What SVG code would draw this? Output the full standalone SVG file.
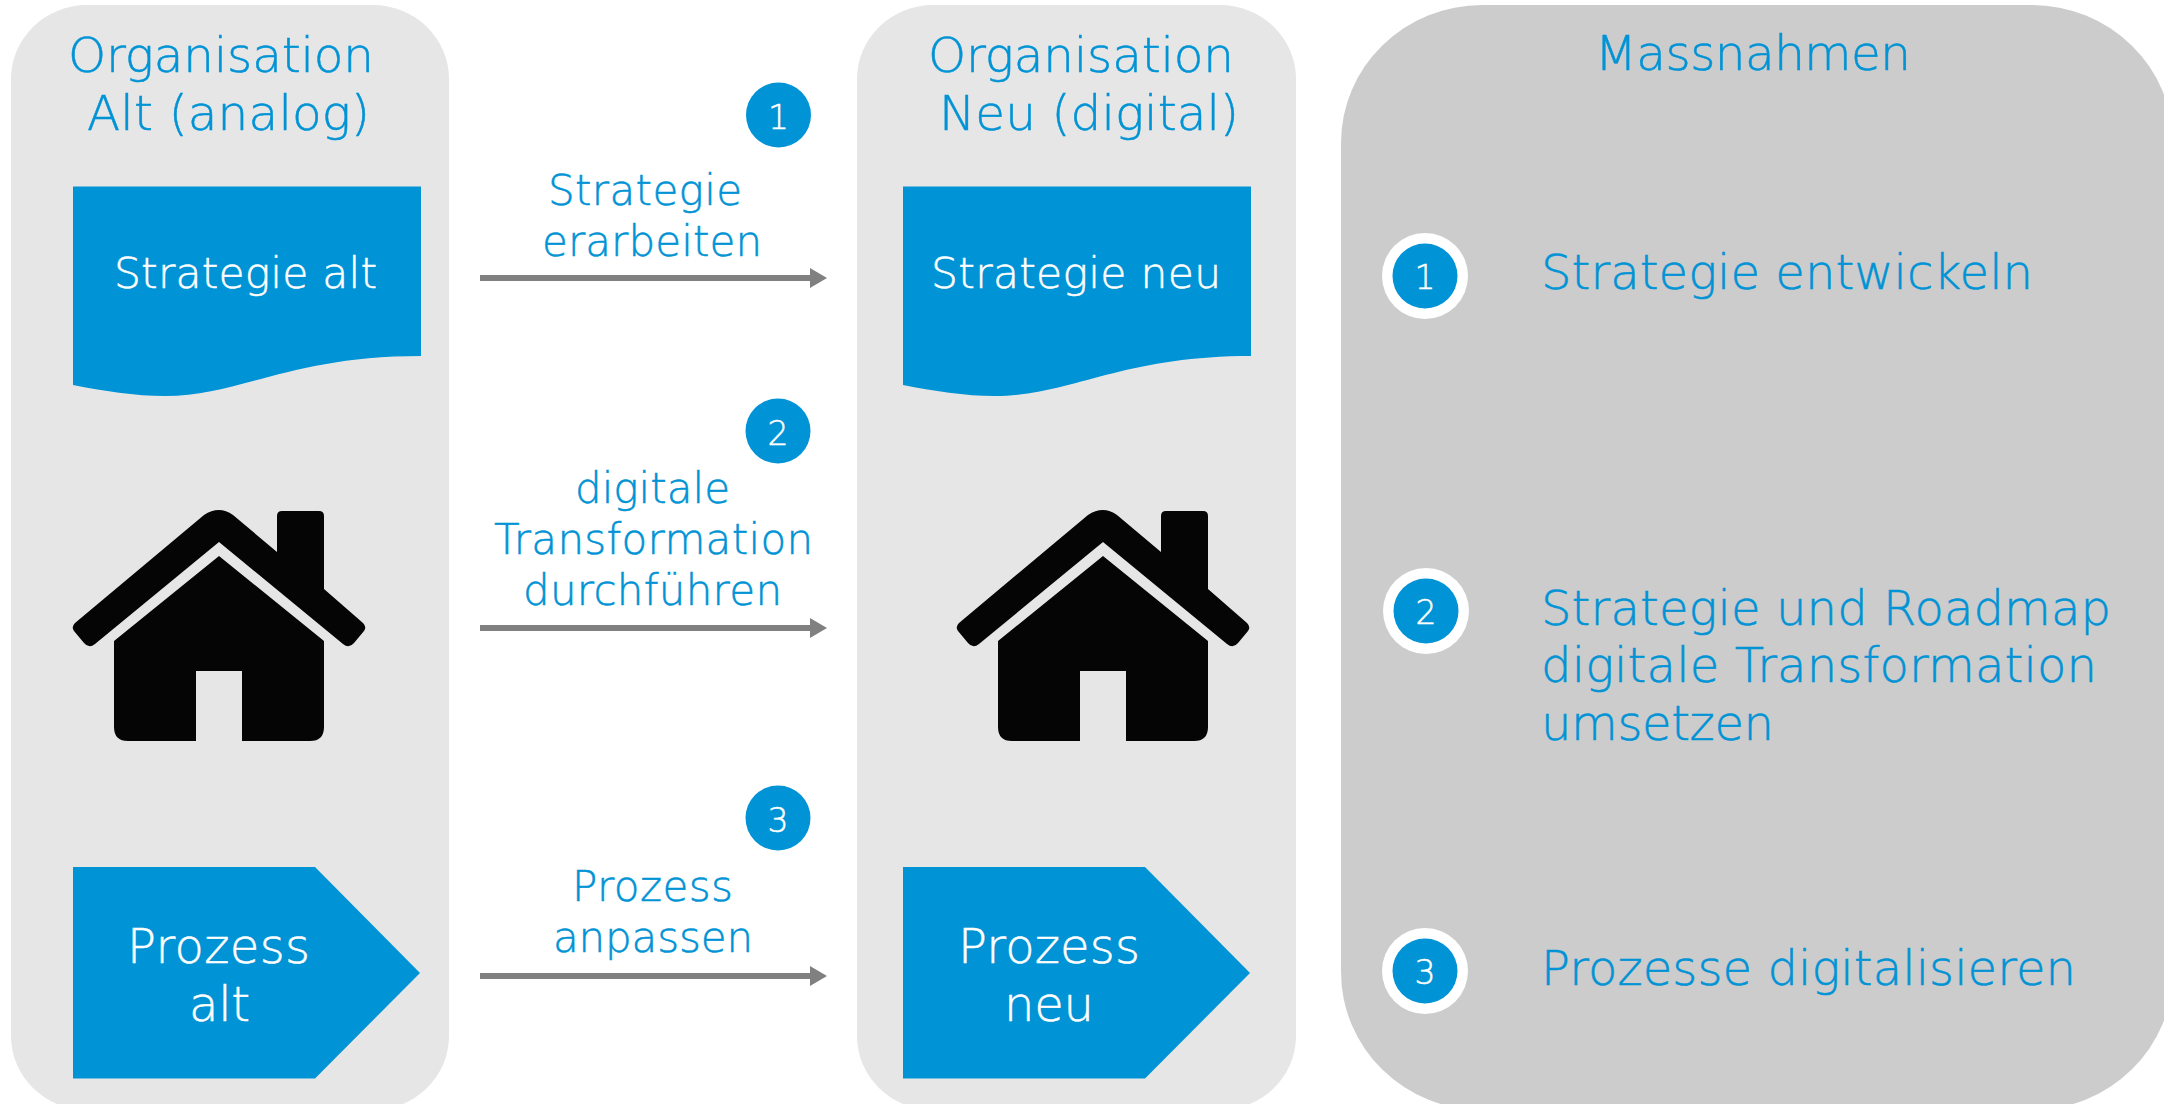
<svg xmlns="http://www.w3.org/2000/svg" width="2164" height="1104" viewBox="0 0 2164 1104">
<style>
text{font-family:"DejaVu Sans","Open Sans",sans-serif;font-weight:200;stroke-width:.5px}
.h{font-size:48.500px;fill:#0093d5;stroke:#0093d5}
.l{font-size:42px;fill:#0093d5;stroke:#0093d5}
.m{font-size:48px;fill:#0093d5;stroke:#0093d5}
.w{font-size:42.400px;fill:#fff;stroke:#fff}
.p{font-size:48px;fill:#fff;stroke:#fff}
.n{font-size:33px;fill:#fff;stroke:#fff;text-anchor:middle}
.blue{fill:#0093d5}
.conn{stroke:#808080;stroke-width:6;fill:none;marker-end:url(#ah)}
</style>
<defs>
<marker id="ah" markerUnits="userSpaceOnUse" markerWidth="18" markerHeight="20" refX="0" refY="10" orient="auto"><path d="M0 0L17 10L0 20Z" fill="#808080"/></marker>
<path id="house" fill="#050505" d="M204 515Q219 505 233 515L277 552V516Q277 511 282 511H319Q324 511 324 516V589L363 623Q367 627 364 631L354 643Q349 649 343 644L219 542L95 644Q89 649 84 643L74 631Q71 627 75 623ZM114 641L219 556L324 641V727Q324 741 310 741H242V671H196V741H128Q114 741 114 727Z"/>
<path id="doc" class="blue" d="M73 186.500H421V356C290 356 240 396 165 396C135 396 103 391 73 385Z"/>
<path id="pent" class="blue" d="M73 867H315L420 973L315 1078.500H73Z"/>
</defs>
<g id="panel-alt"><rect x="11" y="5" width="438" height="1105" rx="76" ry="74" fill="#e6e6e6"/>
<text class="h" x="68" y="72" textLength="306">Organisation</text>
<text class="h" x="87" y="130" textLength="283">Alt (analog)</text></g>
<g id="panel-neu"><rect x="857" y="5" width="439" height="1105" rx="76" ry="74" fill="#e6e6e6"/>
<text class="h" x="928" y="72" textLength="306">Organisation</text>
<text class="h" x="939" y="130" textLength="300">Neu (digital)</text></g>
<g id="panel-massnahmen"><rect x="1341" y="5" width="832" height="1105" rx="141" ry="138" fill="#ccc"/>
<text class="h" x="1595" y="70" textLength="316">Massnahmen</text></g>
<g id="strategie-alt"><use href="#doc"/><text class="w" x="114" y="288" textLength="263">Strategie alt</text></g>
<g id="strategie-neu"><use href="#doc" x="830"/><text class="w" x="931" y="288" textLength="290">Strategie neu</text></g>
<g id="haus-alt"><use href="#house"/></g>
<g id="haus-neu"><use href="#house" x="884"/></g>
<g id="prozess-alt"><use href="#pent"/><text class="p" x="127" y="963" textLength="183">Prozess</text><text class="p" x="189" y="1021" textLength="61">alt</text></g>
<g id="prozess-neu"><use href="#pent" x="830"/><text class="p" x="958" y="963" textLength="182">Prozess</text><text class="p" x="1004" y="1021" textLength="90">neu</text></g>
<g id="connectors">
<path class="conn" d="M480 278H810"/><path class="conn" d="M480 628H810"/><path class="conn" d="M480 976H810"/>
</g>
<g id="label-1"><circle class="blue" cx="778.500" cy="115" r="32.500"/><text class="n" x="778.500" y="129">1</text>
<text class="l" x="548" y="205" textLength="194">Strategie</text><text class="l" x="542" y="256" textLength="220">erarbeiten</text></g>
<g id="label-2"><circle class="blue" cx="778" cy="431" r="32.500"/><text class="n" x="778" y="445">2</text>
<text class="l" x="575" y="503" textLength="155">digitale</text><text class="l" x="494" y="554" textLength="319">Transformation</text><text class="l" x="523" y="605" textLength="259">durchführen</text></g>
<g id="label-3"><circle class="blue" cx="778" cy="818" r="32.500"/><text class="n" x="778" y="832">3</text>
<text class="l" x="572" y="901" textLength="161">Prozess</text><text class="l" x="553" y="952" textLength="200">anpassen</text></g>
<g id="massnahme-1"><circle cx="1425" cy="276" r="43" fill="#fff"/><circle class="blue" cx="1425" cy="276" r="32.500"/><text class="n" x="1425" y="289">1</text>
<text class="m" x="1541" y="289" textLength="492">Strategie entwickeln</text></g>
<g id="massnahme-2"><circle cx="1426" cy="611" r="43" fill="#fff"/><circle class="blue" cx="1426" cy="611" r="32.500"/><text class="n" x="1426" y="624">2</text>
<text class="m" x="1541" y="625" textLength="570">Strategie und Roadmap</text><text class="m" x="1541" y="682" textLength="556">digitale Transformation</text><text class="m" x="1541" y="740" textLength="233">umsetzen</text></g>
<g id="massnahme-3"><circle cx="1425" cy="971" r="43" fill="#fff"/><circle class="blue" cx="1425" cy="971" r="32.500"/><text class="n" x="1425" y="984">3</text>
<text class="m" x="1541" y="984.500" textLength="535">Prozesse digitalisieren</text></g>
</svg>
